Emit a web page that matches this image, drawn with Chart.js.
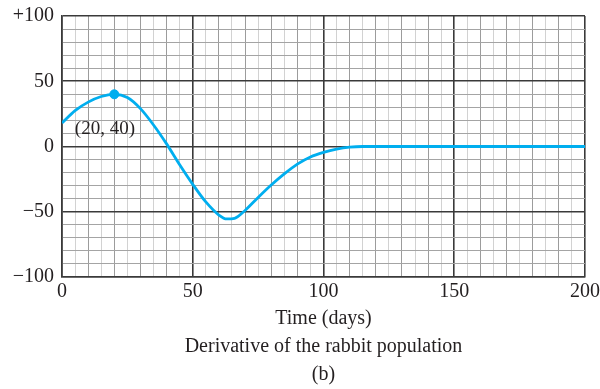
<!DOCTYPE html>
<html>
<head>
<meta charset="utf-8">
<script src="https://cdn.jsdelivr.net/npm/chart.js@4.4.1/dist/chart.umd.min.js"></script>
<style>
  html, body { margin: 0; padding: 0; background: #fff; }
  #wrap { width: 600px; height: 389px; position: relative; }
</style>
</head>
<body>
<div id="wrap"><canvas id="chart"></canvas></div>
<script>
// Values
const days = [0, 5, 10, 15, 20, 25, 30, 35, 40, 45, 50, 55, 60, 63, 66, 70, 75, 80, 85, 90, 95, 100, 105, 110, 115, 120, 150, 200];
const rateValues = [18, 27.5, 34, 38.3, 40, 37.5, 29, 16.5, 2, -14, -29, -42.5, -52.5, -55.5, -55, -49, -39, -29.5, -21, -13.5, -8, -4.5, -2, -0.5, 0, 0, 0, 0];
const markedPoint = [{ x: 20, y: 40 }];
const markedLabel = '(20, 40)';
const xTickLabels = { 0: '0', 50: '50', 100: '100', 150: '150', 200: '200' };
const yTickLabels = { '-100': '\u2212100', '-50': '\u221250', 0: '0', 50: '50', 100: '+100' };
const captionLines = ['Time (days)', 'Derivative of the rabbit population', '(b)'];

const serif = '"Liberation Serif", "DejaVu Serif", serif';
const curveColor = '#00aeef';
const textColor = '#231f20';

// Grid colours: heavy lines every 50, lighter ones between
function xGridColor(v) {
  if (v % 50 === 0) return '#3a3a3a';
  if (v % 10 === 0) return '#9c9c9c';
  return '#d2d2d2';
}
function yGridColor(v) {
  if (v % 50 === 0) return '#3a3a3a';
  return '#a4a4a4';
}

// Draws the "(20, 40)" annotation next to the curve
const pointLabel = {
  id: 'pointLabel',
  afterDatasetsDraw(chart) {
    const { ctx, scales } = chart;
    const px = scales.x.getPixelForValue(4.9);
    const py = scales.y.getPixelForValue(13.5);
    ctx.save();
    ctx.font = '19px ' + serif;
    ctx.fillStyle = textColor;
    ctx.textAlign = 'left';
    ctx.textBaseline = 'middle';
    ctx.fillText(markedLabel, px, py);
    ctx.restore();
  }
};

new Chart(document.getElementById('chart'), {
  type: 'line',
  data: {
    datasets: [
      {
        data: days.map((d, i) => ({ x: d, y: rateValues[i] })),
        borderColor: curveColor,
        borderWidth: 2.8,
        pointRadius: 0,
        cubicInterpolationMode: 'monotone',
        fill: false
      },
      {
        data: markedPoint,
        showLine: false,
        pointRadius: 4.5,
        pointBackgroundColor: curveColor,
        pointBorderColor: curveColor
      }
    ]
  },
  options: {
    responsive: true,
    maintainAspectRatio: false,
    animation: false,
    layout: { padding: 0 },
    plugins: {
      legend: { display: false },
      tooltip: { enabled: false }
    },
    scales: {
      x: {
        type: 'linear',
        min: 0,
        max: 200,
        afterFit: s => { s.height = 112; s.paddingRight = 15; s.paddingLeft = 0; },
        ticks: {
          stepSize: 5,
          autoSkip: false,
          maxRotation: 0,
          padding: 3,
          color: textColor,
          font: { family: serif, size: 20 },
          callback: v => xTickLabels[v] || ''
        },
        grid: {
          drawTicks: false,
          color: ctx => xGridColor(ctx.tick.value),
          lineWidth: ctx => (ctx.tick.value % 50 === 0 ? 1.6 : 1)
        },
        border: { color: '#3a3a3a', width: 1.6 },
        // axis title plus the figure caption, centred under the plot
        title: {
          display: true,
          text: captionLines,
          color: textColor,
          font: { family: serif, size: 20, lineHeight: 1.4 },
          padding: { top: 1, bottom: 0 }
        }
      },
      y: {
        min: -100,
        max: 100,
        afterFit: s => { s.width = 62; s.paddingTop = 16; s.paddingBottom = 0; },
        ticks: {
          stepSize: 10,
          autoSkip: false,
          padding: 8,
          color: textColor,
          font: { family: serif, size: 20 },
          callback: v => yTickLabels[v] || ''
        },
        grid: {
          drawTicks: false,
          color: ctx => yGridColor(ctx.tick.value),
          lineWidth: ctx => (ctx.tick.value % 50 === 0 ? 1.6 : 1)
        },
        border: { color: '#3a3a3a', width: 1.6 }
      }
    }
  },
  plugins: [pointLabel]
});
</script>
</body>
</html>
